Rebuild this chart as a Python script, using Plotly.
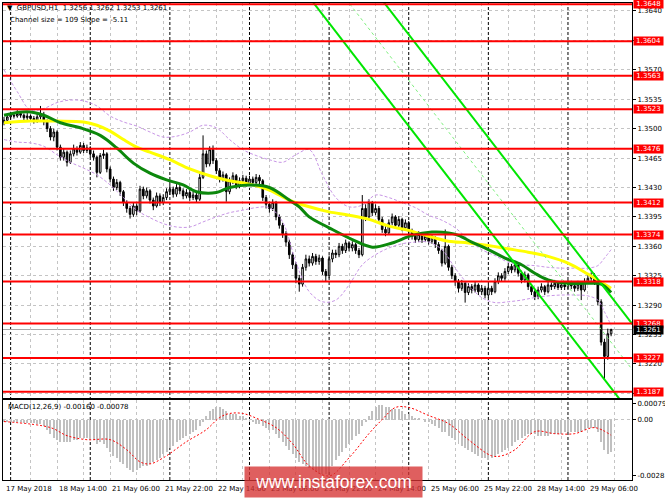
import plotly.graph_objects as go
import pandas as pd

# ---------------- data ----------------
open_ = [1.3508, 1.3510, 1.3514, 1.3516, 1.3515, 1.3518, 1.3516, 1.3513, 1.3515, 1.3512,
         1.3510, 1.3514, 1.3517, 1.3508, 1.3500, 1.3490, 1.3496, 1.3478, 1.3466, 1.3472,
         1.3460, 1.3470, 1.3476, 1.3472, 1.3480, 1.3474, 1.3477, 1.3470, 1.3466, 1.3448,
         1.3468, 1.3470, 1.3452, 1.3440, 1.3430, 1.3436, 1.3425, 1.3412, 1.3405, 1.3398,
         1.3408, 1.3402, 1.3428, 1.3420, 1.3426, 1.3415, 1.3408, 1.3420, 1.3412, 1.3418,
         1.3425, 1.3428, 1.3422, 1.3430, 1.3426, 1.3420, 1.3424, 1.3418, 1.3421, 1.3416,
         1.3442, 1.3470, 1.3458, 1.3475, 1.3462, 1.3450, 1.3440, 1.3445, 1.3425, 1.3438,
         1.3444, 1.3432, 1.3438, 1.3441, 1.3435, 1.3440, 1.3436, 1.3442, 1.3438, 1.3418,
         1.3410, 1.3405, 1.3412, 1.3395, 1.3385, 1.3375, 1.3365, 1.3350, 1.3338, 1.3322,
         1.3315, 1.3335, 1.3345, 1.3340, 1.3348, 1.3342, 1.3346, 1.3330, 1.3325, 1.3345,
         1.3352, 1.3350, 1.3360, 1.3355, 1.3364, 1.3358, 1.3362, 1.3355, 1.3350, 1.3405,
         1.3395, 1.3412, 1.3400, 1.3405, 1.3392, 1.3380, 1.3376, 1.3388, 1.3395, 1.3385,
         1.3392, 1.3382, 1.3388, 1.3378, 1.3372, 1.3368, 1.3374, 1.3368, 1.3372, 1.3366,
         1.3370, 1.3362, 1.3355, 1.3340, 1.3360, 1.3335, 1.3325, 1.3318, 1.3310, 1.3316,
         1.3305, 1.3312, 1.3308, 1.3314, 1.3306, 1.3310, 1.3302, 1.3310, 1.3306, 1.3318,
         1.3325, 1.3322, 1.3330, 1.3336, 1.3332, 1.3338, 1.3328, 1.3320, 1.3326, 1.3312,
         1.3306, 1.3300, 1.3308, 1.3312, 1.3306, 1.3314, 1.3312, 1.3316, 1.3311, 1.3314,
         1.3312, 1.3316, 1.3313, 1.3310, 1.3315, 1.3308, 1.3318, 1.3322, 1.3325, 1.3318,
         1.3294, 1.3246, 1.3229, 1.3256]

high = [1.3514, 1.3518, 1.3520, 1.3519, 1.3522, 1.3521, 1.3518, 1.3519, 1.3517, 1.3515,
        1.3519, 1.3527, 1.3520, 1.3511, 1.3503, 1.3500, 1.3498, 1.3481, 1.3477, 1.3474,
        1.3474, 1.3481, 1.3479, 1.3484, 1.3483, 1.3481, 1.3479, 1.3474, 1.3468, 1.3471,
        1.3475, 1.3472, 1.3455, 1.3443, 1.3440, 1.3438, 1.3427, 1.3415, 1.3408, 1.3412,
        1.3411, 1.3432, 1.3431, 1.3430, 1.3428, 1.3418, 1.3424, 1.3423, 1.3422, 1.3429,
        1.3433, 1.3431, 1.3434, 1.3433, 1.3429, 1.3428, 1.3427, 1.3425, 1.3424, 1.3446,
        1.3492, 1.3474, 1.3479, 1.3480, 1.3465, 1.3453, 1.3449, 1.3447, 1.3442, 1.3448,
        1.3446, 1.3442, 1.3445, 1.3444, 1.3444, 1.3443, 1.3446, 1.3445, 1.3440, 1.3421,
        1.3413, 1.3416, 1.3414, 1.3398, 1.3388, 1.3378, 1.3368, 1.3353, 1.3341, 1.3326,
        1.3339, 1.3350, 1.3349, 1.3352, 1.3351, 1.3350, 1.3348, 1.3333, 1.3349, 1.3356,
        1.3356, 1.3364, 1.3363, 1.3368, 1.3366, 1.3366, 1.3364, 1.3358, 1.3421, 1.3410,
        1.3416, 1.3414, 1.3410, 1.3408, 1.3395, 1.3384, 1.3392, 1.3399, 1.3397, 1.3396,
        1.3394, 1.3392, 1.3390, 1.3381, 1.3375, 1.3378, 1.3376, 1.3376, 1.3374, 1.3374,
        1.3372, 1.3365, 1.3357, 1.3380, 1.3362, 1.3338, 1.3328, 1.3321, 1.3320, 1.3318,
        1.3316, 1.3315, 1.3318, 1.3316, 1.3314, 1.3313, 1.3314, 1.3313, 1.3322, 1.3329,
        1.3328, 1.3334, 1.3340, 1.3339, 1.3342, 1.3340, 1.3331, 1.3330, 1.3328, 1.3315,
        1.3309, 1.3312, 1.3316, 1.3314, 1.3318, 1.3317, 1.3320, 1.3318, 1.3318, 1.3317,
        1.3320, 1.3319, 1.3316, 1.3319, 1.3318, 1.3322, 1.3326, 1.3329, 1.3328, 1.3321,
        1.3297, 1.3250, 1.3262, 1.3262]

low = [1.3504, 1.3507, 1.3511, 1.3512, 1.3513, 1.3513, 1.3509, 1.3510, 1.3508, 1.3506,
       1.3507, 1.3511, 1.3504, 1.3496, 1.3486, 1.3485, 1.3474, 1.3462, 1.3462, 1.3455,
       1.3458, 1.3467, 1.3468, 1.3470, 1.3471, 1.3471, 1.3466, 1.3462, 1.3442, 1.3446,
       1.3464, 1.3448, 1.3436, 1.3426, 1.3427, 1.3420, 1.3408, 1.3400, 1.3393, 1.3395,
       1.3397, 1.3400, 1.3416, 1.3417, 1.3411, 1.3403, 1.3406, 1.3408, 1.3409, 1.3415,
       1.3421, 1.3418, 1.3419, 1.3422, 1.3416, 1.3417, 1.3414, 1.3415, 1.3412, 1.3414,
       1.3440, 1.3454, 1.3455, 1.3458, 1.3446, 1.3436, 1.3437, 1.3413, 1.3422, 1.3434,
       1.3428, 1.3429, 1.3434, 1.3431, 1.3432, 1.3432, 1.3433, 1.3434, 1.3414, 1.3405,
       1.3400, 1.3402, 1.3391, 1.3381, 1.3370, 1.3360, 1.3345, 1.3333, 1.3316, 1.3306,
       1.3312, 1.3331, 1.3336, 1.3337, 1.3338, 1.3338, 1.3326, 1.3318, 1.3322, 1.3341,
       1.3346, 1.3347, 1.3351, 1.3352, 1.3354, 1.3354, 1.3351, 1.3346, 1.3348, 1.3390,
       1.3392, 1.3396, 1.3397, 1.3388, 1.3376, 1.3372, 1.3374, 1.3385, 1.3381, 1.3382,
       1.3378, 1.3379, 1.3374, 1.3368, 1.3364, 1.3365, 1.3364, 1.3365, 1.3362, 1.3363,
       1.3358, 1.3351, 1.3336, 1.3338, 1.3331, 1.3321, 1.3313, 1.3305, 1.3307, 1.3293,
       1.3302, 1.3304, 1.3305, 1.3302, 1.3302, 1.3298, 1.3299, 1.3302, 1.3304, 1.3315,
       1.3318, 1.3319, 1.3327, 1.3328, 1.3329, 1.3324, 1.3316, 1.3317, 1.3308, 1.3302,
       1.3296, 1.3297, 1.3305, 1.3302, 1.3304, 1.3308, 1.3309, 1.3308, 1.3308, 1.3308,
       1.3309, 1.3309, 1.3306, 1.3307, 1.3296, 1.3306, 1.3315, 1.3319, 1.3314, 1.3290,
       1.3242, 1.3201, 1.3225, 1.3253]

close = [1.3510, 1.3514, 1.3516, 1.3515, 1.3518, 1.3516, 1.3513, 1.3515, 1.3512, 1.3510,
         1.3514, 1.3517, 1.3508, 1.3500, 1.3490, 1.3496, 1.3478, 1.3466, 1.3472, 1.3460,
         1.3470, 1.3476, 1.3472, 1.3480, 1.3474, 1.3477, 1.3470, 1.3466, 1.3448, 1.3468,
         1.3470, 1.3452, 1.3440, 1.3430, 1.3436, 1.3425, 1.3412, 1.3405, 1.3398, 1.3408,
         1.3402, 1.3428, 1.3420, 1.3426, 1.3415, 1.3408, 1.3420, 1.3412, 1.3418, 1.3425,
         1.3428, 1.3422, 1.3430, 1.3426, 1.3420, 1.3424, 1.3418, 1.3421, 1.3416, 1.3442,
         1.3470, 1.3458, 1.3475, 1.3462, 1.3450, 1.3440, 1.3445, 1.3425, 1.3438, 1.3444,
         1.3432, 1.3438, 1.3441, 1.3435, 1.3440, 1.3436, 1.3442, 1.3438, 1.3418, 1.3410,
         1.3405, 1.3412, 1.3395, 1.3385, 1.3375, 1.3365, 1.3350, 1.3338, 1.3322, 1.3315,
         1.3335, 1.3345, 1.3340, 1.3348, 1.3342, 1.3346, 1.3330, 1.3325, 1.3345, 1.3352,
         1.3350, 1.3360, 1.3355, 1.3364, 1.3358, 1.3362, 1.3355, 1.3350, 1.3405, 1.3395,
         1.3412, 1.3400, 1.3405, 1.3392, 1.3380, 1.3376, 1.3388, 1.3395, 1.3385, 1.3392,
         1.3382, 1.3388, 1.3378, 1.3372, 1.3368, 1.3374, 1.3368, 1.3372, 1.3366, 1.3370,
         1.3362, 1.3355, 1.3340, 1.3360, 1.3335, 1.3325, 1.3318, 1.3310, 1.3316, 1.3305,
         1.3312, 1.3308, 1.3314, 1.3306, 1.3310, 1.3302, 1.3310, 1.3306, 1.3318, 1.3325,
         1.3322, 1.3330, 1.3336, 1.3332, 1.3338, 1.3328, 1.3320, 1.3326, 1.3312, 1.3306,
         1.3300, 1.3308, 1.3312, 1.3306, 1.3314, 1.3312, 1.3316, 1.3311, 1.3314, 1.3312,
         1.3316, 1.3313, 1.3310, 1.3315, 1.3308, 1.3318, 1.3322, 1.3325, 1.3318, 1.3294,
         1.3246, 1.3229, 1.3256, 1.3261]

# moving averages read at sample bars (bar index, price)
ma_green_bar = [0, 7, 12, 17, 23, 29, 34, 39, 44, 49, 54, 58, 64, 68, 74, 80, 86, 89, 92, 98,
                105, 111, 117, 123, 129, 134, 137, 141, 146, 151, 156, 160, 164, 169, 176, 180, 183]
ma_green_val = [1.3516, 1.3520, 1.3516, 1.3507, 1.3501, 1.3492, 1.3477, 1.3459, 1.3447, 1.3439,
                1.3433, 1.3425, 1.3424, 1.3430, 1.3433, 1.3430, 1.3415, 1.3407, 1.3395, 1.3382,
                1.3368, 1.3359, 1.3364, 1.3373, 1.3377, 1.3376, 1.3373, 1.3365, 1.3356, 1.3346,
                1.3338, 1.3328, 1.3320, 1.3316, 1.3316, 1.3315, 1.3305]

ma_yellow_bar = [0, 8, 16, 24, 28, 32, 36, 40, 44, 50, 56, 62, 68, 74, 80, 86, 92, 98, 104,
                 110, 116, 122, 128, 134, 140, 146, 152, 158, 164, 170, 176, 183]
ma_yellow_val = [1.3507, 1.3509, 1.3509, 1.3508, 1.3504, 1.3497, 1.3487, 1.3478, 1.3472, 1.3463,
                 1.3452, 1.3444, 1.3438, 1.3434, 1.3427, 1.3415, 1.3407, 1.3401, 1.3397, 1.3392,
                 1.3384, 1.3379, 1.3372, 1.3366, 1.3364, 1.3361, 1.3357, 1.3353, 1.3348, 1.3340,
                 1.3327, 1.3310]

# Bollinger bands read at sample bars
bb_bar = [0, 4, 8, 12, 16, 20, 24, 28, 32, 36, 40, 44, 48, 52, 56, 60, 64, 68, 72, 76, 80, 84,
          88, 92, 96, 100, 104, 108, 112, 116, 120, 124, 128, 132, 136, 140, 144, 148, 152,
          156, 160, 164, 168, 172, 176, 179, 181, 183]
bb_upper = [1.3570, 1.3544, 1.3522, 1.3524, 1.3531, 1.3534, 1.3533, 1.3527, 1.3515, 1.3508,
            1.3503, 1.3496, 1.3490, 1.3491, 1.3496, 1.3504, 1.3501, 1.3487, 1.3475, 1.3468,
            1.3463, 1.3460, 1.3469, 1.3475, 1.3445, 1.3418, 1.3407, 1.3409, 1.3421, 1.3418,
            1.3412, 1.3406, 1.3397, 1.3391, 1.3382, 1.3368, 1.3356, 1.3349, 1.3341, 1.3338,
            1.3337, 1.3335, 1.3334, 1.3334, 1.3334, 1.3337, 1.3346, 1.3356]
bb_lower = [1.3487, 1.3484, 1.3483, 1.3479, 1.3469, 1.3460, 1.3453, 1.3445, 1.3433, 1.3418,
            1.3403, 1.3394, 1.3387, 1.3383, 1.3383, 1.3389, 1.3395, 1.3400, 1.3403, 1.3406,
            1.3406, 1.3389, 1.3341, 1.3306, 1.3294, 1.3296, 1.3314, 1.3338, 1.3350, 1.3358,
            1.3363, 1.3365, 1.3365, 1.3356, 1.3334, 1.3314, 1.3299, 1.3293, 1.3294, 1.3296,
            1.3299, 1.3301, 1.3302, 1.3302, 1.3301, 1.3296, 1.3282, 1.3266]

# regression channel (from the header: size 109 points, slope -5.11 points per bar)
channel_size_pts = 109
channel_slope_pts = -5.11
channel_anchor_bar = 103.9
channel_anchor_mid = 1.3650
channel_from_bar = 60
channel_to_bar = 190

# horizontal levels
levels = [1.3648, 1.3604, 1.3563, 1.3523, 1.3476, 1.3412, 1.3374, 1.3318, 1.3268, 1.3227, 1.3187]
last_price = 1.3261
price_ticks = [1.3185, 1.3220, 1.3255, 1.3290, 1.3325, 1.3360, 1.3395, 1.3430, 1.3465,
               1.3500, 1.3535, 1.3570, 1.3605, 1.3640]

# MACD(12,26,9) histogram (main line), one value per bar
macd_hist = [-0.0001, -0.0001, -0.0001, -0.0001, -0.0001, -0.0001, -0.00015, -0.00015, -0.00015, -0.00015, -0.0002, -0.0002,
             -0.0003, -0.0005, -0.0007, -0.0009, -0.0010, -0.0011, -0.0011, -0.0011, -0.0011, -0.0010,
             -0.0010, -0.0009, -0.0009, -0.0009, -0.0010, -0.0010, -0.0012, -0.0011, -0.0012, -0.0014,
             -0.0016, -0.0018, -0.0019, -0.0021, -0.0022, -0.0024, -0.0025, -0.0026, -0.0025, -0.0024,
             -0.0023, -0.0023, -0.0022, -0.0021, -0.0020, -0.0019, -0.0017, -0.0016, -0.0014, -0.0013,
             -0.0011, -0.0010, -0.0009, -0.0008, -0.0007, -0.0006, -0.0005, -0.0003, -0.0001, 0.0002,
             0.0004, 0.0005, 0.0006, 0.0006, 0.0005, 0.0004, 0.0003, 0.0003, 0.0003, 0.0002,
             0.0002, 0.0001, -0.0001, -0.0001, -0.0002, -0.0002, -0.0003, -0.0004, -0.0005, -0.0005,
             -0.0007, -0.0009, -0.0011, -0.0013, -0.0015, -0.0017, -0.0019, -0.0021, -0.0022, -0.0023,
             -0.0024, -0.0025, -0.0026, -0.0027, -0.0027, -0.0027, -0.0026, -0.0023, -0.0020, -0.0018,
             -0.0016, -0.0014, -0.0012, -0.0010, -0.0008, -0.0007, -0.0003, -0.0001, 0.0002, 0.0004,
             0.0006, 0.0007, 0.0007, 0.0006, 0.0006, 0.0005, 0.0005, 0.0005, 0.0004, 0.0003,
             0.0003, 0.0002, 0.0001, 0.0001, 0.0000, -0.0001, -0.0001, -0.0002, -0.0003, -0.0004,
             -0.0006, -0.0006, -0.0008, -0.0009, -0.0010, -0.0012, -0.0013, -0.0014, -0.0015, -0.0016,
             -0.0017, -0.0018, -0.0019, -0.0019, -0.0020, -0.0019, -0.0018, -0.0017, -0.0016, -0.0015,
             -0.0014, -0.0013, -0.0011, -0.0010, -0.0009, -0.0008, -0.0007, -0.0007, -0.0007, -0.0008,
             -0.0008, -0.0008, -0.0008, -0.0007, -0.0007, -0.0007, -0.0007, -0.0006, -0.0006, -0.0006,
             -0.0006, -0.0006, -0.0006, -0.0005, -0.0004, -0.0004, -0.0004, -0.0006, -0.0011, -0.0015,
             -0.0017, -0.0016]
# signal line read at sample bars
signal_bar = [0, 14, 19, 25, 32, 37, 41, 44, 48, 55, 61, 65, 68, 72, 77, 82, 87, 92, 98, 104,
              110, 114, 118, 122, 128, 134, 140, 147, 150, 154, 160, 166, 172, 178, 183]
signal_val = [-0.0001, -0.0004, -0.0008, -0.0010, -0.0010, -0.0015, -0.0021, -0.0022, -0.0019, -0.0011,
              -0.0005, 0.0001, 0.0003, 0.0003, 0.0000, -0.0004, -0.0012, -0.0023, -0.0028, -0.0019,
              -0.0007, 0.0000, 0.0006, 0.0006, 0.0002, -0.0002, -0.0010, -0.0018, -0.0018, -0.0015,
              -0.0006, -0.0007, -0.0007, -0.0004, -0.00078]
macd_ticks = [0.00079, 0.0, -0.0028]
macd_tick_text = ["0.00079", "0.00", "-0.0028"]

# ---------------- bar times (hourly, weekdays only) ----------------
n = len(close)
bars = list(range(n))
all_hours = pd.date_range("2018-05-17 22:00", periods=24 * 14, freq="h")
times = [t for t in all_hours if t.dayofweek < 5][:n]
label_bars = [i for i in bars if i % 16 == 0]
label_text = []
for i in label_bars:
    t = times[i]
    label_text.append(f"{t.day} {t.strftime('%b %Y')}" if i == 0 else f"{t.day} {t.strftime('%b %H:%M')}")
separator_bars = [i for i in bars if times[i].hour == 0]
grid_bars = [i for i in range(0, 192) if i % 8 == 0]

# ---------------- geometry / style ----------------
W, H = 665, 499
ML, MR, MT, MB = 3, 33, 3, 19
P_TOP, P_BOT = MT, H - MB
def py(y):
    return (P_BOT - y) / (P_BOT - P_TOP)
def px(x):
    return (x - ML) / (W - MR - ML)

FONT = "DejaVu Sans"
GRID = "#c4c4c4"
BB_COLOR = "#c896e6"
CH_COLOR = "#00e600"

fig = go.Figure()

fig.add_trace(go.Candlestick(
    x=bars, open=open_, high=high, low=low, close=close,
    xaxis="x2", yaxis="y",
    increasing=dict(line=dict(color="black", width=1), fillcolor="white"),
    decreasing=dict(line=dict(color="black", width=1), fillcolor="black"),
    whiskerwidth=0, hoverinfo="skip", showlegend=False))

for vals in (bb_upper, bb_lower):
    fig.add_trace(go.Scatter(x=bb_bar, y=vals, mode="lines", xaxis="x2", yaxis="y",
                             line=dict(color=BB_COLOR, width=1, dash="3px,2px", shape="spline"),
                             hoverinfo="skip", showlegend=False))

fig.add_trace(go.Scatter(x=ma_yellow_bar, y=ma_yellow_val, mode="lines", xaxis="x2", yaxis="y",
                         line=dict(color="#ffff00", width=3, shape="spline"),
                         hoverinfo="skip", showlegend=False))
fig.add_trace(go.Scatter(x=ma_green_bar, y=ma_green_val, mode="lines", xaxis="x2", yaxis="y",
                         line=dict(color="#0c880c", width=3, shape="spline"),
                         hoverinfo="skip", showlegend=False))

half = channel_size_pts / 2 * 0.0001
slope = channel_slope_pts * 0.0001
ch_x = [channel_from_bar, channel_to_bar]
ch_mid = [channel_anchor_mid + slope * (b - channel_anchor_bar) for b in ch_x]
for off, dash, wdt in ((half, "solid", 2), (-half, "solid", 2), (0, "3px,3px", 1)):
    fig.add_trace(go.Scatter(x=ch_x, y=[m + off for m in ch_mid], mode="lines", xaxis="x2", yaxis="y",
                             line=dict(color=CH_COLOR if off else "#7ef07e", width=wdt, dash=dash),
                             hoverinfo="skip", showlegend=False))

fig.add_trace(go.Bar(x=bars, y=macd_hist, xaxis="x", yaxis="y2", width=0.6,
                     marker=dict(color="#c0c0c0", line=dict(width=0)),
                     hoverinfo="skip", showlegend=False))
fig.add_trace(go.Scatter(x=signal_bar, y=signal_val, mode="lines", xaxis="x", yaxis="y2",
                         line=dict(color="#ff0000", width=1, dash="2px,2px", shape="spline"),
                         hoverinfo="skip", showlegend=False))

shapes = []
for b in separator_bars:
    shapes.append(dict(type="line", xref="x", yref="paper", x0=b, x1=b, y0=0, y1=1,
                       line=dict(color="black", width=1, dash="3px,2px"), layer="below"))
shapes.append(dict(type="line", xref="paper", yref="y", x0=0, x1=1, y0=last_price, y1=last_price,
                   line=dict(color="#a8a8a8", width=1), layer="below"))
for lv in levels:
    shapes.append(dict(type="line", xref="paper", yref="y", x0=0, x1=1, y0=lv, y1=lv,
                       line=dict(color="#ff0000", width=2), layer="above"))

ann = []
ann.append(dict(text="\u25bc\u00a0\u00a0GBPUSD,H1\u00a0\u00a0" + " ".join(f"{v:.4f}" for v in (open_[-1], high[-1], low[-1], close[-1])),
                xref="paper", yref="paper", x=px(5), y=py(8), xanchor="left", yanchor="middle",
                showarrow=False, font=dict(family=FONT, size=7, color="black")))
ann.append(dict(text=f"Channel size = {channel_size_pts} Slope = {channel_slope_pts}",
                xref="paper", yref="paper", x=px(8), y=py(20), xanchor="left", yanchor="middle",
                showarrow=False, font=dict(family=FONT, size=7, color="black")))
ann.append(dict(text=f"MACD(12,26,9) {macd_hist[-1]:.5f} {signal_val[-1]:.5f}",
                xref="paper", yref="paper", x=px(6), y=py(407), xanchor="left", yanchor="middle",
                showarrow=False, font=dict(family=FONT, size=7, color="black")))
for lv in levels:
    ann.append(dict(text=f"{lv:.4f}", xref="paper", yref="y", x=1, y=lv, xanchor="left", yanchor="middle",
                    xshift=1, showarrow=False, bgcolor="#ff0000", borderpad=0.5, width=28, height=7,
                    font=dict(family=FONT, size=7, color="white")))
ann.append(dict(text=f"{last_price:.4f}", xref="paper", yref="y", x=1, y=last_price, xanchor="left",
                yanchor="middle", xshift=1, showarrow=False, bgcolor="black", borderpad=0.5, width=28, height=7,
                font=dict(family=FONT, size=7, color="white")))
for b, t in zip(label_bars, label_text):
    ann.append(dict(text=t, xref="x", yref="paper", x=b, y=py(489), xanchor="left", yanchor="middle",
                    showarrow=False, font=dict(family=FONT, size=7, color="black")))
ann.append(dict(text="www.instaforex.com", xref="paper", yref="paper", x=px(333.5), y=py(482),
                xanchor="center", yanchor="middle", showarrow=False, width=177, height=30, borderpad=0,
                bgcolor="rgba(214,50,50,0.78)", font=dict(family="Liberation Sans", size=17.5, color="white")))

main_bottom = py(398)
macd_top = py(400)
xr = [-0.3, 189.3]
common_x = dict(range=xr, showticklabels=False, tickvals=grid_bars, ticks="", showgrid=True,
                gridcolor=GRID, griddash="3px,3px", gridwidth=1, zeroline=False, showline=True,
                linecolor="black", linewidth=1, mirror=True, automargin=False,
                rangeslider=dict(visible=False))

fig.update_layout(
    template="none", width=W, height=H, autosize=False,
    margin=dict(l=ML, r=MR, t=MT, b=MB, pad=0),
    paper_bgcolor="white", plot_bgcolor="white",
    showlegend=False, hovermode=False, bargap=0,
    font=dict(family=FONT, size=7, color="black"),
    xaxis=dict(anchor="y2", domain=[0, 1], **common_x),
    xaxis2=dict(anchor="y", domain=[0, 1], matches="x", **common_x),
    yaxis=dict(domain=[main_bottom, 1], anchor="x2", side="right", range=[1.31795, 1.36495],
               tickvals=price_ticks, ticktext=[f"{v:.4f}" for v in price_ticks],
               ticks="outside", ticklen=3, tickcolor="black", tickwidth=1,
               showgrid=True, gridcolor=GRID, griddash="3px,3px", gridwidth=1, zeroline=False,
               showline=True, linecolor="black", linewidth=1, mirror=True, automargin=False,
               tickfont=dict(family=FONT, size=7, color="black")),
    yaxis2=dict(domain=[0, macd_top], anchor="x", side="right", range=[-0.0030, 0.00097],
                tickvals=macd_ticks, ticktext=macd_tick_text,
                ticks="outside", ticklen=3, tickcolor="black", tickwidth=1,
                showgrid=False, zeroline=False, showline=True, linecolor="black", linewidth=1,
                mirror=True, automargin=False,
                minor=dict(tickvals=[0.0], showgrid=True, gridcolor=GRID, griddash="3px,3px", ticks=""),
                tickfont=dict(family=FONT, size=7, color="black")),
    shapes=shapes, annotations=ann,
)

fig.write_html("out.html", config={"displayModeBar": False, "staticPlot": True},
               post_script="document.body.style.margin='0';document.body.style.padding='0';document.body.style.overflow='hidden';")
